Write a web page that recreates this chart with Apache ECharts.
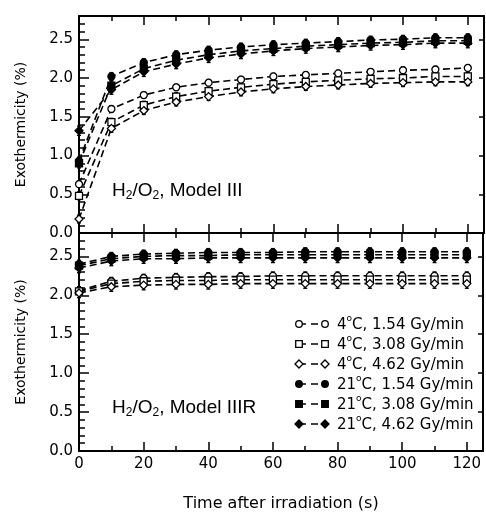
<!DOCTYPE html>
<html>
<head>
<meta charset="utf-8">
<script src="https://cdn.jsdelivr.net/npm/echarts@6/dist/echarts.min.js"></script>
<style>
  html, body { margin: 0; padding: 0; background: #fff; }
  #chart { width: 486px; height: 513px; }
</style>
</head>
<body>
<div id="chart"></div>
<script>
const chart = echarts.init(document.getElementById("chart"));

const times = [0, 10, 20, 30, 40, 50, 60, 70, 80, 90, 100, 110, 120];
const seriesNames = ["4°C, 1.54 Gy/min", "4°C, 3.08 Gy/min", "4°C, 4.62 Gy/min",
  "21°C, 1.54 Gy/min", "21°C, 3.08 Gy/min", "21°C, 4.62 Gy/min"];
const legendTemps = ["4", "4", "4", "21", "21", "21"];
const legendRates = ["1.54", "3.08", "4.62", "1.54", "3.08", "4.62"];
const symbols = ["circle", "rect", "diamond", "circle", "rect", "diamond"];
const filled = [false, false, false, true, true, true];

// Model III (top panel)
const model3 = [
  [0.63, 1.60, 1.78, 1.88, 1.94, 1.98, 2.02, 2.04, 2.06, 2.08, 2.10, 2.11, 2.13],
  [0.48, 1.43, 1.65, 1.76, 1.83, 1.88, 1.92, 1.95, 1.97, 1.99, 2.00, 2.02, 2.02],
  [0.18, 1.35, 1.58, 1.69, 1.76, 1.82, 1.86, 1.89, 1.91, 1.93, 1.94, 1.95, 1.95],
  [0.93, 2.02, 2.20, 2.30, 2.36, 2.40, 2.43, 2.45, 2.47, 2.49, 2.50, 2.52, 2.52],
  [0.90, 1.90, 2.12, 2.23, 2.30, 2.35, 2.38, 2.41, 2.43, 2.45, 2.46, 2.48, 2.48],
  [1.32, 1.85, 2.08, 2.18, 2.26, 2.31, 2.35, 2.38, 2.40, 2.42, 2.43, 2.45, 2.45],
];
// error bar half-widths (same for every time point of a series)
const model3Err = [0.04, 0.05, 0.05, 0.05, 0.06, 0.06];

// Model IIIR (bottom panel)
const model3R = [
  [2.06, 2.18, 2.22, 2.23, 2.24, 2.24, 2.25, 2.25, 2.25, 2.25, 2.25, 2.25, 2.25],
  [2.05, 2.15, 2.18, 2.19, 2.19, 2.20, 2.20, 2.20, 2.20, 2.20, 2.20, 2.20, 2.20],
  [2.03, 2.11, 2.13, 2.14, 2.14, 2.15, 2.15, 2.15, 2.15, 2.15, 2.15, 2.15, 2.15],
  [2.40, 2.50, 2.53, 2.54, 2.55, 2.55, 2.55, 2.56, 2.56, 2.56, 2.56, 2.56, 2.56],
  [2.38, 2.47, 2.50, 2.51, 2.51, 2.52, 2.52, 2.52, 2.52, 2.52, 2.52, 2.52, 2.52],
  [2.35, 2.44, 2.47, 2.47, 2.48, 2.48, 2.48, 2.48, 2.48, 2.48, 2.48, 2.48, 2.48],
];
const model3RErr = [0.05, 0.05, 0.06, 0.05, 0.05, 0.06];

const FONT = "DejaVu Sans";
const black = "#000";

function xAxisFor(grid, pos, showLabels) {
  return {
    type: "value", gridIndex: grid, position: pos, min: 0, max: 125, interval: 20,
    axisLine: { show: true, onZero: false, lineStyle: { color: black, width: 2 } },
    axisTick: { show: true, inside: true, length: 9, lineStyle: { color: black, width: 1.5 } },
    minorTick: { show: true, splitNumber: 2, length: 5, lineStyle: { color: black, width: 1.5 } },
    splitLine: { show: false },
    axisLabel: {
      show: showLabels, color: black, fontFamily: FONT, fontSize: 15, margin: 6,
      formatter: v => (v % 20 === 0 ? String(v) : ""),
    },
    name: showLabels ? "Time after irradiation (s)" : "",
    nameLocation: "middle", nameGap: 45,
    nameTextStyle: { color: black, fontFamily: FONT, fontSize: 16 },
  };
}

function yAxisFor(grid, pos) {
  const left = pos === "left";
  return {
    type: "value", gridIndex: grid, position: pos, min: 0, max: 2.8, interval: 0.5,
    axisLine: { show: true, onZero: false, lineStyle: { color: black, width: 2 } },
    axisTick: { show: true, inside: true, length: left ? 10 : 5, lineStyle: { color: black, width: 1.5 } },
    minorTick: { show: left, splitNumber: 5, length: 6, lineStyle: { color: black, width: 1.5 } },
    splitLine: { show: false },
    axisLabel: {
      show: left, color: black, fontFamily: FONT, fontSize: 15, margin: 6,
      formatter: v => (Math.abs(v * 2 - Math.round(v * 2)) < 1e-6 ? v.toFixed(1) : ""),
    },
    name: left ? "Exothermicity (%)" : "",
    nameLocation: "middle", nameGap: 51,
    nameTextStyle: { color: black, fontFamily: FONT, fontSize: 14 },
  };
}

function makeSeries(values, errs, grid) {
  const out = [];
  values.forEach((vals, i) => {
    out.push({
      name: seriesNames[i],
      type: "line",
      xAxisIndex: grid * 2, yAxisIndex: grid * 2,
      data: times.map((t, k) => [t, vals[k]]),
      symbol: symbols[i],
      symbolSize: symbols[i] === "diamond" ? 8 : 7,
      showSymbol: true,
      lineStyle: { color: black, width: 1.6, type: [7, 4] },
      itemStyle: { color: filled[i] ? black : "#fff", borderColor: black, borderWidth: 1.3 },
      z: 3,
    });
    out.push({
      type: "custom",
      xAxisIndex: grid * 2, yAxisIndex: grid * 2,
      data: times.map((t, k) => [t, vals[k] - errs[i], vals[k] + errs[i]]),
      renderItem: (params, api) => {
        const lo = api.coord([api.value(0), api.value(1)]);
        const hi = api.coord([api.value(0), api.value(2)]);
        return {
          type: "group",
          children: [
            { type: "line", shape: { x1: lo[0], y1: lo[1], x2: hi[0], y2: hi[1] }, style: { stroke: black, lineWidth: 1.3 } },
            { type: "line", shape: { x1: lo[0] - 2, y1: lo[1], x2: lo[0] + 2, y2: lo[1] }, style: { stroke: black, lineWidth: 1.3 } },
            { type: "line", shape: { x1: hi[0] - 2, y1: hi[1], x2: hi[0] + 2, y2: hi[1] }, style: { stroke: black, lineWidth: 1.3 } },
          ],
        };
      },
      z: 2,
    });
  });
  return out;
}

// legend drawn as graphic rows: marker - dash - marker, label
const legendGraphic = [];
seriesNames.forEach((n, i) => {
  const y = 324 + i * 20;
  const sym = symbols[i];
  const mk = cx => {
    const style = { fill: filled[i] ? black : "#fff", stroke: black, lineWidth: 1.3 };
    if (sym === "circle") return { type: "circle", shape: { cx, cy: y, r: 3.3 }, style, z: 10 };
    if (sym === "rect") return { type: "rect", shape: { x: cx - 3.3, y: y - 3.3, width: 6.6, height: 6.6 }, style, z: 10 };
    return { type: "polygon", shape: { points: [[cx, y - 4], [cx + 4, y], [cx, y + 4], [cx - 4, y]] }, style, z: 10 };
  };
  legendGraphic.push({ type: "line", shape: { x1: 299, y1: y, x2: 325, y2: y },
    style: { stroke: black, lineWidth: 1.6, lineDash: [7, 5] }, z: 9 });
  legendGraphic.push(mk(299));
  legendGraphic.push(mk(325));
  legendGraphic.push({
    type: "text", left: 337, top: y - 11,
    style: {
      text: "{n|" + legendTemps[i] + "}{sup|o}{n|C, " + legendRates[i] + " Gy/min}",
      fill: black,
      rich: {
        n: { fontSize: 15, fontFamily: FONT, lineHeight: 22, verticalAlign: "bottom", padding: [0, 0, 2, 0] },
        sup: { fontSize: 9, fontFamily: FONT, lineHeight: 10, verticalAlign: "top", padding: [1, 0, 0, 0] },
      },
    },
  });
});

function annot(top, label) {
  return {
    type: "text", left: 112, top,
    style: {
      text: "H{sub|2}/O{sub|2}, " + label,
      fill: black, font: "19px Liberation Sans",
      rich: { sub: { fontSize: 12, verticalAlign: "bottom", padding: [10, 0, 0, 0], fontFamily: "Liberation Sans" } },
    },
  };
}

chart.setOption({
  backgroundColor: "#fff",
  animation: false,
  grid: [
    { left: 79, right: 2, top: 16, height: 217 },
    { left: 79, right: 2, top: 233, height: 218 },
  ],
  xAxis: [xAxisFor(0, "bottom", false), xAxisFor(0, "top", false), xAxisFor(1, "bottom", true), xAxisFor(1, "top", false)],
  yAxis: [yAxisFor(0, "left"), yAxisFor(0, "right"), yAxisFor(1, "left"), yAxisFor(1, "right")],
  series: [...makeSeries(model3, model3Err, 0), ...makeSeries(model3R, model3RErr, 1)],
  graphic: [annot(181, "Model III"), annot(398, "Model IIIR"), ...legendGraphic],
});
</script>
</body>
</html>
